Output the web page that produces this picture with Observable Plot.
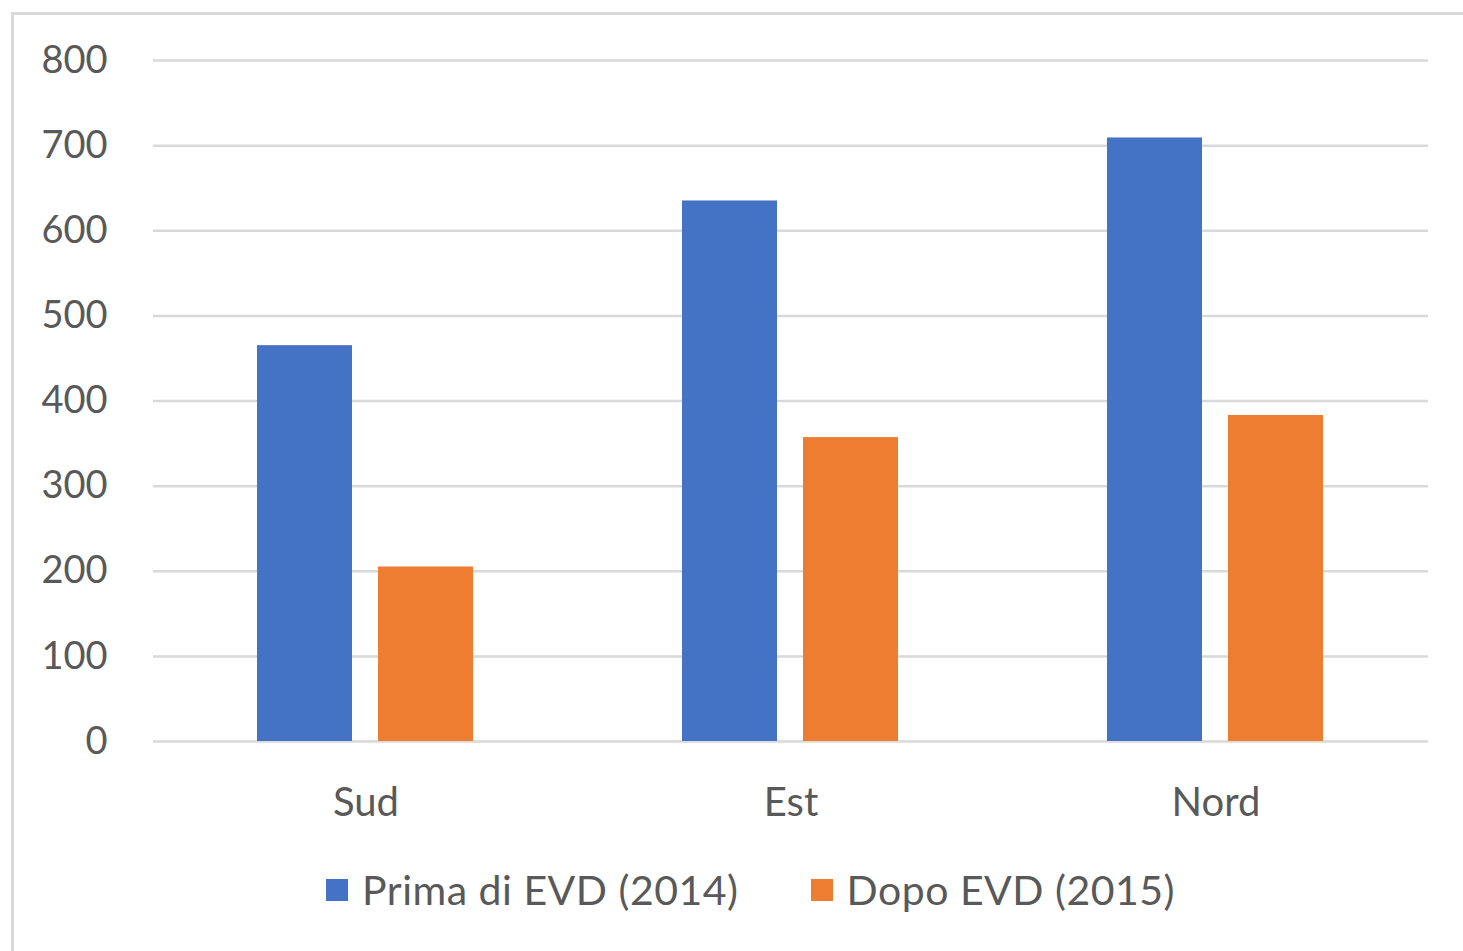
<!DOCTYPE html>
<html>
<head>
<meta charset="utf-8">
<script src="https://cdn.jsdelivr.net/npm/d3@7"></script>
<script src="https://cdn.jsdelivr.net/npm/@observablehq/plot@0.6"></script>
<style>
  html, body { margin: 0; padding: 0; background: #ffffff; }
  #wrap { position: relative; width: 1463px; height: 951px; overflow: hidden; font-family: Lato, "Open Sans", sans-serif; }
  #border { position: absolute; left: 11px; top: 12px; width: 1460px; height: 950px;
            border-left: 3px solid #d9d9d9; border-top: 3px solid #d9d9d9; }
  #chart { position: absolute; left: 0; top: 0; }
  #chart g[aria-label="fx-axis tick label"] text { font-size: 40px; }
  #legend { position: absolute; left: 326px; top: 865px; display: flex; align-items: center;
            font-size: 41px; letter-spacing: 0.5px; color: #595959; white-space: nowrap; }
  .item { display: flex; align-items: center; margin-right: 72px; }
  .sw { width: 22px; height: 22px; margin-right: 14px; }
</style>
</head>
<body>
<div id="wrap">
  <div id="border"></div>
  <div id="chart"></div>
  <div id="legend"></div>
</div>
<script>
const regions = ["Sud", "Est", "Nord"];
const seriesNames = ["Prima di EVD (2014)", "Dopo EVD (2015)"];
const prima = [465, 635, 709];
const dopo = [205, 357, 383];
const colors = ["#4472C4", "#ED7D31"];
const yTicks = [0, 100, 200, 300, 400, 500, 600, 700, 800];

const data = [];
regions.forEach((r, i) => {
  data.push({region: r, series: seriesNames[0], value: prima[i]});
  data.push({region: r, series: seriesNames[1], value: dopo[i]});
});

const chart = Plot.plot({
  width: 1463,
  height: 850,
  marginLeft: 152,
  marginRight: 35,
  marginTop: 60,
  marginBottom: 109,
  style: { fontFamily: "Lato, 'Open Sans', sans-serif", fontSize: "38px", color: "#595959", background: "transparent" },
  fx: { domain: regions, padding: 0, axis: "bottom", tickSize: 0, tickPadding: 46, label: null },
  x: { domain: seriesNames, paddingInner: 0.213, paddingOuter: 0.85, axis: null },
  y: { domain: [0, 800], ticks: yTicks, tickSize: 0, tickPadding: 46, label: null, tickFormat: d => String(d) },
  color: { domain: seriesNames, range: colors },
  marks: [
    Plot.ruleY(yTicks, { stroke: "#d9d9d9", strokeWidth: 2.5 }),
    Plot.barY(data, { fx: "region", x: "series", y: "value", fill: "series" })
  ]
});
document.getElementById("chart").appendChild(chart);

const legend = document.getElementById("legend");
seriesNames.forEach((s, i) => {
  const item = document.createElement("div");
  item.className = "item";
  const sw = document.createElement("div");
  sw.className = "sw";
  sw.style.background = colors[i];
  const t = document.createElement("span");
  t.textContent = s;
  item.appendChild(sw);
  item.appendChild(t);
  legend.appendChild(item);
});
</script>
</body>
</html>
